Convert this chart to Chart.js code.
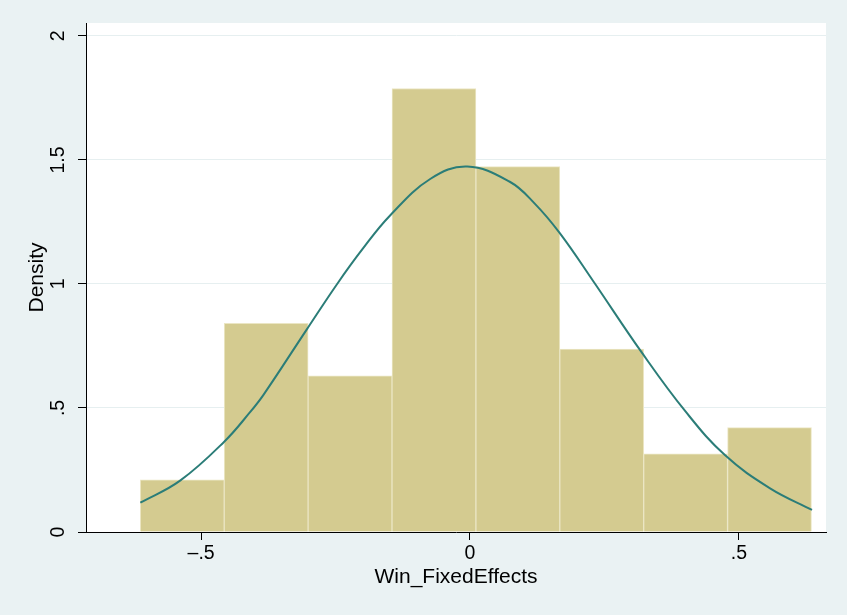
<!DOCTYPE html>
<html lang="en">
  <head>
    <meta charset="UTF-8" />
    <title>Win_FixedEffects histogram</title>
    <style>
      html, body { margin: 0; padding: 0; background: #eaf2f3; }
      #wrap { width: 847px; height: 615px; }
    </style>
  </head>
  <body>
    <div id="wrap"><canvas id="myChart" width="847" height="615"></canvas></div>
    <script src="https://cdn.jsdelivr.net/npm/chart.js@4/dist/chart.umd.min.js"></script>
    <script>
      // histogram bins (centres, bin width 0.156) and their density
      var binCenters = [-0.535, -0.379, -0.223, -0.067, 0.089, 0.245, 0.401, 0.557];
      var density = [0.210, 0.841, 0.630, 1.788, 1.473, 0.737, 0.315, 0.421];

      // normal density overlay
      var curveX = [-0.613, -0.539, -0.457, -0.409, -0.384, -0.304, -0.247, -0.200, -0.149, -0.074,
                    -0.005, 0.074, 0.120, 0.167, 0.229, 0.319, 0.400, 0.474, 0.558, 0.636];
      var curveY = [0.118, 0.207, 0.364, 0.483, 0.553, 0.815, 1.000, 1.140, 1.275, 1.423,
                    1.473, 1.412, 1.325, 1.205, 1.012, 0.725, 0.488, 0.310, 0.176, 0.089];

      // axis ticks
      var xTickValues = [-0.5, 0, 0.5];
      var xTickLabels = ["\u2013.5", "0", ".5"];
      var yTickValues = [0, 0.5, 1, 1.5, 2];
      var yTickLabels = ["0", ".5", "1", "1.5", "2"];

      var outerBg = "#eaf2f3";
      var fontFamily = "'Liberation Sans', Arial, Helvetica, sans-serif";

      var barPoints = binCenters.map(function (x, i) { return { x: x, y: density[i] }; });
      var curvePoints = curveX.map(function (x, i) { return { x: x, y: curveY[i] }; });

      // paint the grey-blue page and the white plot region
      var bgPlugin = {
        id: "bg",
        beforeDraw: function (chart) {
          var ctx = chart.ctx, a = chart.chartArea;
          ctx.save();
          ctx.fillStyle = outerBg;
          ctx.fillRect(0, 0, chart.width, chart.height);
          ctx.fillStyle = "#ffffff";
          ctx.fillRect(a.left, a.top, a.right - a.left, a.bottom - a.top);
          ctx.restore();
        }
      };

      var ctx = document.getElementById("myChart").getContext("2d");
      var myChart = new Chart(ctx, {
        type: "bar",
        data: {
          datasets: [
            {
              type: "line",
              data: curvePoints,
              borderColor: "#2b7d78",
              borderWidth: 2,
              pointRadius: 0,
              fill: false,
              tension: 0.4
            },
            {
              type: "bar",
              data: barPoints,
              backgroundColor: "#d4cb90",
              borderColor: "#ebe6c4",
              borderWidth: 1,
              barPercentage: 1,
              categoryPercentage: 1
            }
          ]
        },
        options: {
          responsive: false,
          animation: false,
          devicePixelRatio: 1,
          layout: { padding: { top: 23, right: 21, left: 0, bottom: 0 } },
          plugins: { legend: { display: false }, tooltip: { enabled: false } },
          scales: {
            x: {
              type: "linear",
              offset: false,
              min: -0.714,
              max: 0.662,
              afterBuildTicks: function (s) {
                s.ticks = xTickValues.map(function (v) { return { value: v }; });
              },
              ticks: {
                callback: function (v) { return xTickLabels[xTickValues.indexOf(v)]; },
                font: { family: fontFamily, size: 19.5 },
                color: "#000",
                padding: 2,
                maxRotation: 0,
                autoSkip: false
              },
              grid: { offset: false, drawOnChartArea: false, tickLength: 8, tickColor: "#000", tickWidth: 1 },
              border: { color: "#000", width: 1 },
              title: {
                display: true,
                text: "Win_FixedEffects",
                color: "#000",
                font: { family: fontFamily, size: 21 },
                padding: { top: 0, bottom: 25.4 }
              },
              afterFit: function (s) { s.height = 83; }
            },
            y: {
              min: 0,
              max: 2.052,
              afterBuildTicks: function (s) {
                s.ticks = yTickValues.map(function (v) { return { value: v }; });
              },
              ticks: {
                callback: function (v) { return yTickLabels[yTickValues.indexOf(v)]; },
                font: { family: fontFamily, size: 19.5 },
                color: "#000",
                minRotation: 90,
                maxRotation: 90,
                crossAlign: "center",
                padding: 6
              },
              grid: { color: "#e6eff0", lineWidth: 1, tickLength: 8, tickColor: "#000", tickWidth: 1 },
              border: { color: "#000", width: 1 },
              title: {
                display: true,
                text: "Density",
                color: "#000",
                font: { family: fontFamily, size: 21 },
                padding: { top: 24.9, bottom: 0 }
              },
              afterFit: function (s) { s.width = 86; }
            }
          }
        },
        plugins: [bgPlugin]
      });
    </script>
  </body>
</html>
